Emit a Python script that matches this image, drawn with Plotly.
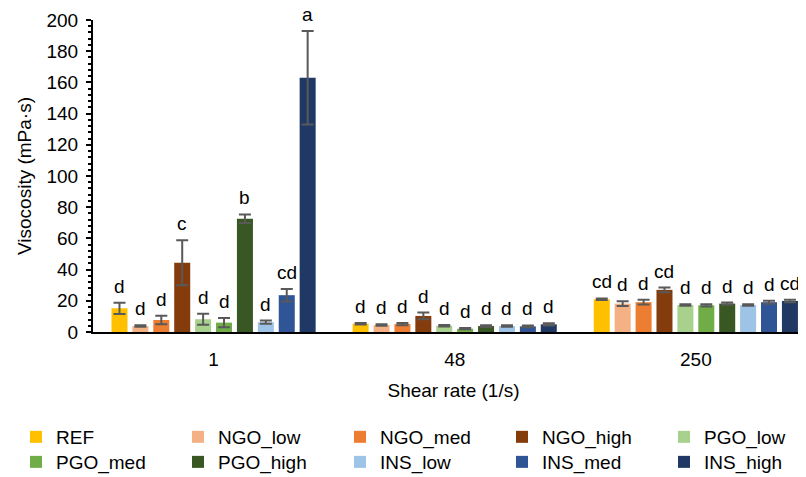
import plotly.graph_objects as go

shear_rates = ["1", "48", "250"]
series_names = ["REF", "NGO_low", "NGO_med", "NGO_high", "PGO_low",
                "PGO_med", "PGO_high", "INS_low", "INS_med", "INS_high"]
colors = ["#FFC000", "#F4B183", "#ED7D31", "#843C0C", "#A9D18E",
          "#70AD47", "#385723", "#9DC3E6", "#2F5597", "#1F3864"]

REF = [15.2, 5.3, 21.0]
NGO_low = [3.8, 4.5, 18.2]
NGO_med = [7.7, 5.1, 19.1]
NGO_high = [44.4, 10.3, 27.0]
PGO_low = [8.2, 4.0, 17.3]
PGO_med = [6.0, 2.1, 17.1]
PGO_high = [72.6, 3.8, 18.2]
INS_low = [6.3, 3.8, 17.3]
INS_med = [23.6, 3.6, 19.1]
INS_high = [163.0, 4.9, 19.9]

REF_err = [3.6, 0.5, 0.5]
NGO_low_err = [0.5, 0.5, 1.5]
NGO_med_err = [2.7, 0.7, 1.5]
NGO_high_err = [14.4, 2.2, 1.5]
PGO_low_err = [3.5, 0.5, 0.5]
PGO_med_err = [2.9, 0.4, 0.7]
PGO_high_err = [2.8, 0.6, 0.7]
INS_low_err = [1.0, 0.5, 0.5]
INS_med_err = [4.0, 0.6, 1.0]
INS_high_err = [30.0, 0.7, 0.8]

REF_lbl = ["d", "d", "cd"]
NGO_low_lbl = ["d", "d", "d"]
NGO_med_lbl = ["d", "d", "d"]
NGO_high_lbl = ["c", "d", "cd"]
PGO_low_lbl = ["d", "d", "d"]
PGO_med_lbl = ["d", "d", "d"]
PGO_high_lbl = ["b", "d", "d"]
INS_low_lbl = ["d", "d", "d"]
INS_med_lbl = ["cd", "d", "d"]
INS_high_lbl = ["a", "d", "cd"]

values = [REF, NGO_low, NGO_med, NGO_high, PGO_low, PGO_med, PGO_high, INS_low, INS_med, INS_high]
errors = [REF_err, NGO_low_err, NGO_med_err, NGO_high_err, PGO_low_err, PGO_med_err,
          PGO_high_err, INS_low_err, INS_med_err, INS_high_err]
labels = [REF_lbl, NGO_low_lbl, NGO_med_lbl, NGO_high_lbl, PGO_low_lbl, PGO_med_lbl,
          PGO_high_lbl, INS_low_lbl, INS_med_lbl, INS_high_lbl]

FONT = "Liberation Sans, Arial, sans-serif"
FS = 19
BARGAP = 0.133

fig = go.Figure()
for i, (name, col, v, e) in enumerate(zip(series_names, colors, values, errors)):
    fig.add_trace(go.Bar(
        name=name, x=shear_rates, y=v,
        marker=dict(color=col, line=dict(width=0)),
        error_y=dict(type="data", array=e, visible=True, color="#595959",
                     thickness=2, width=6),
        legend="legend" if i < 5 else "legend2",
    ))

leg_common = dict(orientation="h", x=-0.1068, xanchor="left", yanchor="top",
                  font=dict(size=FS, family=FONT, color="black"),
                  entrywidth=117, tracegroupgap=0, itemwidth=30,
                  bgcolor="rgba(0,0,0,0)")

fig.update_layout(
    barmode="group", bargap=BARGAP, bargroupgap=0.234,
    width=806, height=469,
    margin=dict(l=85, r=0, t=12, b=145, autoexpand=False),
    plot_bgcolor="white", paper_bgcolor="white",
    font=dict(family=FONT, size=FS, color="#000000"),
    showlegend=True,
    legend=dict(y=-0.2756, **leg_common),
    legend2=dict(y=-0.3558, **leg_common),
)

fig.update_xaxes(
    type="category", range=[-0.5, 2.49], automargin=False,
    showline=True, linecolor="black", linewidth=2, ticks="",
    title=dict(text="Shear rate (1/s)", font=dict(size=FS), standoff=15),
    tickfont=dict(size=FS), ticklabelstandoff=9, showgrid=False,
)
fig.update_yaxes(
    range=[0, 200], dtick=20, automargin=False,
    showline=True, linecolor="black", linewidth=2,
    ticks="outside", ticklen=5, tickwidth=2, tickcolor="black",
    minor=dict(dtick=4, ticks="outside", ticklen=3, tickwidth=2, tickcolor="black"),
    showgrid=False, zeroline=False,
    title=dict(text="Visocosity (mPa·s)", font=dict(size=FS), standoff=10),
    tickfont=dict(size=FS), ticklabelstandoff=4,
)

# significance letters placed above each error bar (data coordinates)
ntr = len(series_names)
slot = (1 - BARGAP) / ntr
for i in range(ntr):
    for j, cat in enumerate(shear_rates):
        top = values[i][j] + errors[i][j]
        xoff = (i - (ntr - 1) / 2) * slot
        fig.add_annotation(
            x=j + xoff, y=top, xref="x", yref="y",
            text=labels[i][j], showarrow=False, yanchor="bottom", yshift=4,
            font=dict(size=FS, family=FONT, color="black"),
        )

fig.write_html("out.html")
